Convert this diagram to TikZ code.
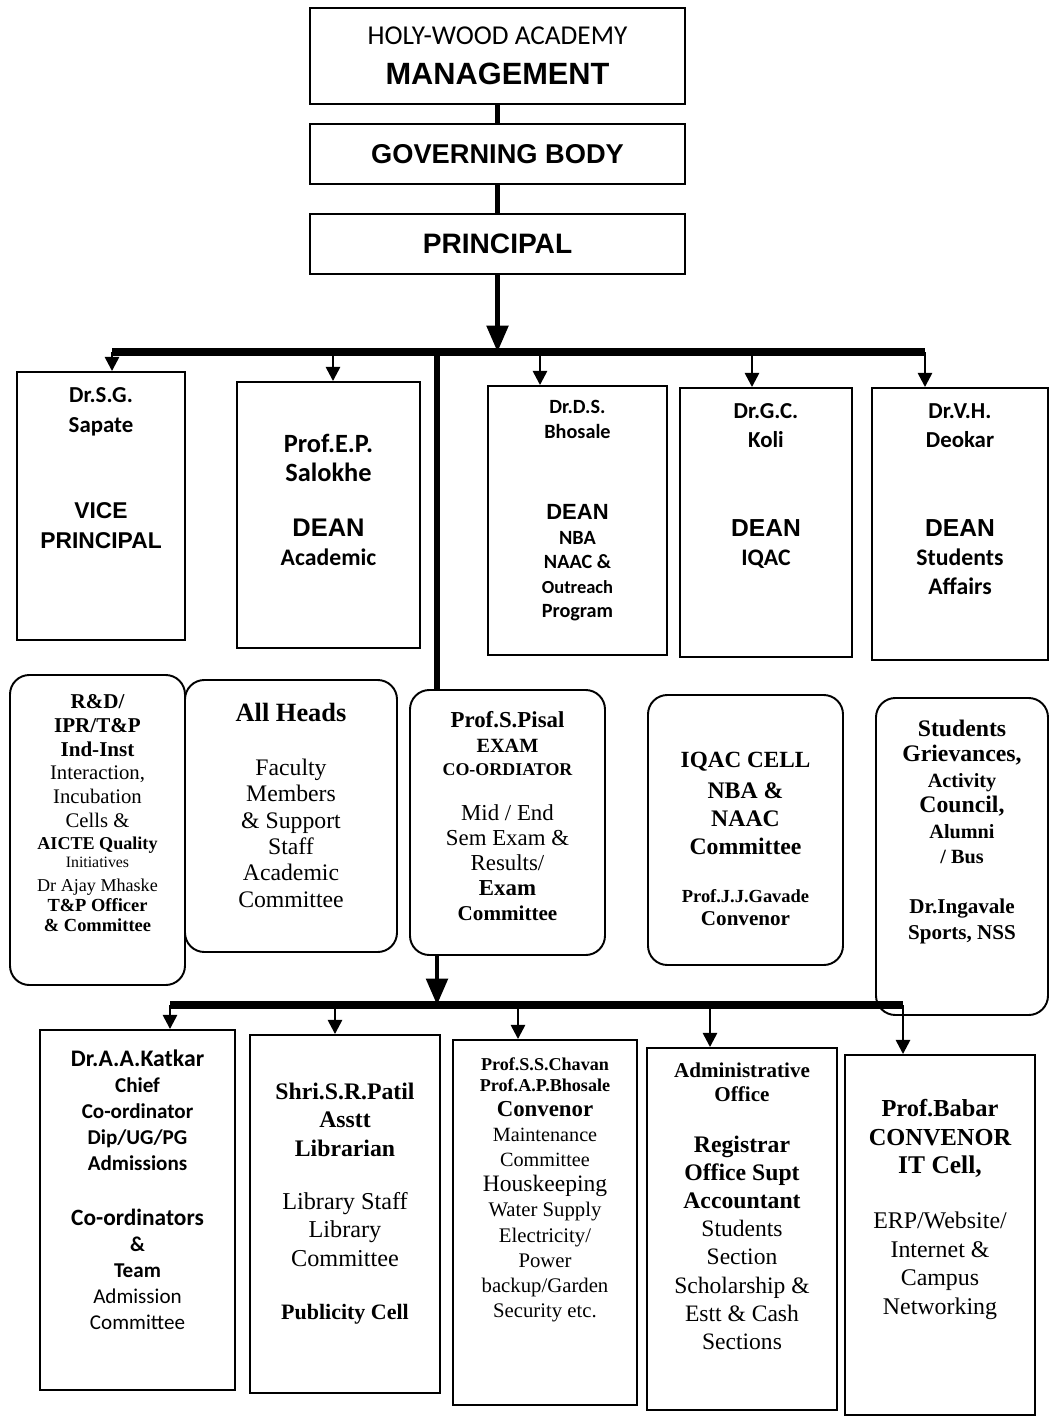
\documentclass[tikz,border=0pt]{standalone}
\usepackage{fontspec}
\setmainfont{Liberation Serif}
\newfontfamily\arialf{Liberation Sans}
\newfontfamily\calf{Carlito}
\usetikzlibrary{arrows.meta,positioning}
\newcommand{\fsz}[2]{\fontsize{#1}{#2}\selectfont}
\newcommand{\hA}[1]{\arialf\bfseries\fsz{#1}{#1}}
\newcommand{\hC}[1]{\calf\bfseries\fsz{#1}{#1}}
\newcommand{\hB}[1]{\bfseries\fsz{#1}{#1}}
\newcommand{\hR}[1]{\fsz{#1}{#1}}
\tikzset{card/.style={draw,line width=1.1pt,inner sep=0pt},
rcard/.style={card,rounded corners=11pt},
txt/.style={align=center,inner sep=0pt},
arrow/.style={-{Triangle[length=8pt,width=8pt]},line width=1.4pt},
bigarrow/.style={-{Triangle[length=15pt,width=12pt]},line width=2.8pt},
bar/.style={line width=4pt},
link/.style={line width=3.2pt}}

\begin{document}
\begin{tikzpicture}[thick]
\useasboundingbox (0,0) rectangle (21.02,-28.4);
% top of the chart
\node[card,minimum width=7.5cm,minimum height=1.92cm,align=center,font=\fsz{15}{23}] (mg) at (9.95,-1.12) {{\calf\fsz{15.5}{23}HOLY-WOOD ACADEMY}\\{\hA{17.5}MANAGEMENT}};
\node[card,minimum width=7.5cm,minimum height=1.2cm] (gb) at (9.95,-3.08) {\hA{15.5}GOVERNING BODY};
\node[card,minimum width=7.5cm,minimum height=1.2cm] (pr) at (9.95,-4.88) {\hA{16}PRINCIPAL};
\draw[link] (mg) -- (gb);
\draw[link] (gb) -- (pr);

% first row
\node[card,minimum width=3.36cm,minimum height=5.36cm] (vp) at (2.02,-10.12) {};
\node[txt,below=0.32cm of vp.north,font=\fsz{13}{17}] (vpt) {{\hC{13}Dr.S.G.}\\{\hC{13}Sapate}\\[32pt]{\hA{13}VICE}\\{\hA{13}PRINCIPAL}};
\node[card,minimum width=3.66cm,minimum height=5.32cm] (da) at (6.57,-10.3) {};
\node[txt,below=1.05cm of da.north,font=\fsz{14}{16.5}] (dat) {{\hC{15}Prof.E.P.}\\{\hC{15}Salokhe}\\[15pt]{\hA{14.5}DEAN}\\{\hC{13.5}Academic}};
\node[card,minimum width=3.58cm,minimum height=5.38cm] (dn) at (11.55,-10.41) {};
\node[txt,below=0.3cm of dn.north,font=\fsz{11.5}{14}] (dnt) {{\hC{11.5}Dr.D.S.}\\{\hC{11.5}Bhosale}\\[32pt]{\hA{12.5}DEAN}\\{\hC{11.5}NBA}\\{\hC{11.5}NAAC \&}\\{\hC{10.5}Outreach}\\{\hC{11.5}Program}};
\node[card,minimum width=3.44cm,minimum height=5.38cm] (dq) at (15.32,-10.45) {};
\node[txt,below=0.32cm of dq.north,font=\fsz{13}{16.5}] (dqt) {{\hC{13}Dr.G.C.}\\{\hC{13}Koli}\\[34pt]{\hA{14}DEAN}\\{\hC{13.5}IQAC}};
\node[card,minimum width=3.52cm,minimum height=5.44cm] (ds) at (19.2,-10.48) {};
\node[txt,below=0.32cm of ds.north,font=\fsz{13}{16.5}] (dst) {{\hC{13}Dr.V.H.}\\{\hC{13}Deokar}\\[34pt]{\hA{14}DEAN}\\{\hC{13.5}Students}\\{\hC{13.5}Affairs}};

\coordinate (b1l) at (2.24,-7.04);
\coordinate (b1r) at (18.5,-7.04);
\coordinate (t2) at (6.66,-7.04);
\coordinate (t3) at (10.8,-7.04);
\coordinate (t4) at (15.04,-7.04);
\coordinate (sp) at (8.74,-7.04);
\draw[bar] (b1l) -- (b1r);
\draw[bigarrow] (pr) -- (pr |- b1l);
\draw[arrow] (b1l) -- (b1l |- vp.north);
\draw[arrow] (t2) -- (t2 |- da.north);
\draw[arrow] (t3) -- (t3 |- dn.north);
\draw[arrow] (t4) -- (t4 |- dq.north);
\draw[arrow] (b1r) -- (b1r |- ds.north);

% second row
\node[rcard,minimum width=3.5cm,minimum height=6.2cm] (rd) at (1.95,-16.6) {};
\node[txt,below=0.4cm of rd.north,font=\fsz{12}{13.5}] (rdt) {{\hB{12}R\&D/}\\{\hB{12}IPR/T\&P}\\{\hB{12}Ind-Inst}\\{\hR{11.8}Interaction,}\\{\hR{11.8}Incubation}\\{\hR{11.8}Cells \&}\\[-1pt]{\hB{10.3}AICTE Quality}\\[-3pt]{\hR{9}Initiatives}\\{\hR{10.3}Dr Ajay Mhaske}\\[-2pt]{\hB{10.5}T\&P Officer}\\[-2pt]{\hB{10.5}\& Committee}};
\node[rcard,minimum width=4.24cm,minimum height=5.44cm] (ah) at (5.82,-16.32) {};
\node[txt,below=0.46cm of ah.north,font=\fsz{13.5}{15}] (aht) {{\hB{15}All Heads}\\[16pt]{\hR{13.5}Faculty}\\{\hR{13.5}Members}\\{\hR{13.5}\& Support}\\{\hR{13.5}Staff}\\{\hR{13.5}Academic}\\{\hR{13.5}Committee}};
\node[rcard,minimum width=3.9cm,minimum height=5.3cm] (ex) at (10.15,-16.45) {};
\node[txt,below=0.44cm of ex.north,font=\fsz{13}{14.2}] (ext) {{\hB{13}Prof.S.Pisal}\\{\hB{11.5}EXAM}\\[-1pt]{\hB{10.2}CO-ORDIATOR}\\[11pt]{\hR{13}Mid / End}\\{\hR{13}Sem Exam \&}\\{\hR{13}Results/}\\{\hB{13}Exam}\\{\hB{12}Committee}};
\node[rcard,minimum width=3.9cm,minimum height=5.4cm] (iq) at (14.91,-16.6) {};
\node[txt,below=1.14cm of iq.north,font=\fsz{13.5}{16}] (iqt) {{\hB{13.2}IQAC CELL}\\[2pt]{\hB{13.5}NBA \&}\\{\hB{13.5}NAAC}\\{\hB{13.5}Committee}\\[11pt]{\hB{10.5}Prof.J.J.Gavade}\\[-3pt]{\hB{12}Convenor}};
\node[rcard,minimum width=3.44cm,minimum height=6.34cm] (sg) at (19.24,-17.13) {};
\node[txt,below=0.44cm of sg.north,font=\fsz{13}{14.5}] (sgt) {{\hB{13.5}Students}\\{\hB{13.5}Grievances,}\\{\hB{11.5}Activity}\\{\hB{13.5}Council,}\\{\hB{11.5}Alumni}\\{\hB{11.5}/ Bus}\\[14pt]{\hB{12}Dr.Ingavale}\\{\hB{12}Sports, NSS}};

\draw[link] (sp) -- (sp |- ex.north);

% third row
\coordinate (b2l) at (3.4,-20.1);
\coordinate (b2r) at (18.06,-20.1);
\coordinate (u2) at (6.7,-20.1);
\coordinate (u3) at (10.36,-20.1);
\coordinate (u4) at (14.2,-20.1);
\draw[bar] (b2l) -- (b2r);
\draw[bigarrow] (sp |- ex.south) -- (sp |- b2l);

\node[card,minimum width=3.9cm,minimum height=7.2cm] (kt) at (2.75,-24.2) {};
\node[txt,below=0.4cm of kt.north,font=\fsz{12}{14.8}] (ktt) {{\hC{13.5}Dr.A.A.Katkar}\\{\hC{12}Chief}\\{\hC{12}Co-ordinator}\\{\hC{12}Dip/UG/PG}\\{\hC{12}Admissions}\\[16.5pt]{\hC{13.3}Co-ordinators}\\{\hC{12}\&}\\{\hC{12}Team}\\{\calf\hR{12}Admission}\\{\calf\hR{12}Committee}};
\node[card,minimum width=3.8cm,minimum height=7.16cm] (lb) at (6.9,-24.28) {};
\node[txt,below=0.96cm of lb.north,font=\fsz{13.5}{16.2}] (lbt) {{\hB{13.5}Shri.S.R.Patil}\\{\hB{13.5}Asstt}\\{\hB{13.5}Librarian}\\[14pt]{\hR{13.8}Library Staff}\\{\hR{13.8}Library}\\{\hR{13.8}Committee}\\[14pt]{\hB{12.5}Publicity Cell}};
\node[card,minimum width=3.68cm,minimum height=7.3cm] (mt) at (10.9,-24.45) {};
\node[txt,below=0.36cm of mt.north,font=\fsz{12}{14.3}] (mtt) {{\hB{10.3}Prof.S.S.Chavan}\\[-2.5pt]{\hB{10.3}Prof.A.P.Bhosale}\\{\hB{13}Convenor}\\{\hR{11.5}Maintenance}\\{\hR{11.5}Committee}\\{\hR{13.4}Houskeeping}\\{\hR{11.8}Water Supply}\\{\hR{11.8}Electricity/}\\{\hR{11.8}Power}\\{\hR{11.8}backup/Garden}\\{\hR{11.8}Security etc.}};
\node[card,minimum width=3.8cm,minimum height=7.24cm] (ad) at (14.84,-24.58) {};
\node[txt,below=0.3cm of ad.north,font=\fsz{13.5}{16}] (adt) {{\hB{12}Administrative}\\[-2.3pt]{\hB{12}Office}\\[13pt]{\hB{13.5}Registrar}\\{\hB{13.5}Office Supt}\\{\hB{13.5}Accountant}\\{\hR{13.4}Students}\\{\hR{13.4}Section}\\{\hR{13.4}Scholarship \&}\\{\hR{13.4}Estt \& Cash}\\{\hR{13.4}Sections}};
\node[card,minimum width=3.8cm,minimum height=7.2cm] (it) at (18.8,-24.7) {};
\node[txt,below=0.9cm of it.north,font=\fsz{13.5}{16.2}] (itt) {{\hB{13.9}Prof.Babar}\\{\hB{13.9}CONVENOR}\\{\hB{14.5}IT Cell,}\\[15pt]{\hR{13.6}ERP/Website/}\\{\hR{13.6}Internet \&}\\{\hR{13.6}Campus}\\{\hR{13.6}Networking}};

\draw[arrow] (b2l) -- (b2l |- kt.north);
\draw[arrow] (u2) -- (u2 |- lb.north);
\draw[arrow] (u3) -- (u3 |- mt.north);
\draw[arrow] (u4) -- (u4 |- ad.north);
\draw[arrow] (b2r) -- (b2r |- it.north);
\end{tikzpicture}
\end{document}
